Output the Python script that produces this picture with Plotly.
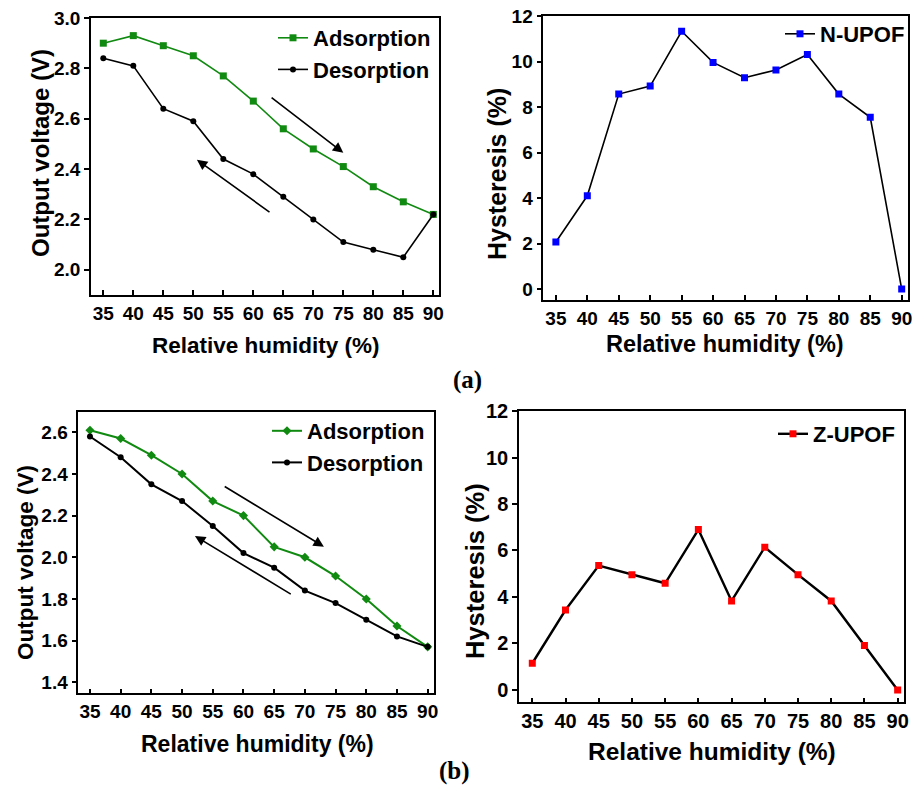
import plotly.graph_objects as go

W, H = 915, 787

# ---------------- data ----------------
rh = [35, 40, 45, 50, 55, 60, 65, 70, 75, 80, 85, 90]

n_ads = [2.90, 2.93, 2.89, 2.85, 2.77, 2.67, 2.56, 2.48, 2.41, 2.33, 2.27, 2.22]
n_des = [2.84, 2.81, 2.64, 2.59, 2.44, 2.38, 2.29, 2.20, 2.11, 2.08, 2.05, 2.22]
n_hyst = [2.07, 4.10, 8.57, 8.92, 11.33, 9.96, 9.29, 9.63, 10.31, 8.57, 7.55, 0.0]

z_ads = [2.61, 2.57, 2.49, 2.40, 2.27, 2.20, 2.05, 2.00, 1.91, 1.80, 1.67, 1.57]
z_des = [2.58, 2.48, 2.35, 2.27, 2.15, 2.02, 1.95, 1.84, 1.78, 1.70, 1.62, 1.57]
z_hyst = [1.15, 3.44, 5.35, 4.96, 4.59, 6.90, 3.83, 6.14, 4.96, 3.83, 1.91, 0.0]

x_ticks = [35, 40, 45, 50, 55, 60, 65, 70, 75, 80, 85, 90]

# direction arrows (tail -> head) in data units
arrows_a = [((62.8, 2.688), (75.0, 2.465)), ((62.95, 2.225), (50.6, 2.437))]
arrows_b = [((56.7, 2.344), (73.1, 2.051)), ((67.95, 1.819), (52.1, 2.102))]

FONT = "Liberation Sans, Arial, sans-serif"
GREEN = "#118a11"


def px(x):
    return x / W


def py(y):
    return 1 - y / H


fig = go.Figure()

# panel (a) left
fig.add_trace(go.Scatter(x=rh, y=n_ads, name="Adsorption", mode="lines+markers",
                         line=dict(color=GREEN, width=1.6),
                         marker=dict(symbol="square", size=7, color=GREEN),
                         xaxis="x", yaxis="y", legend="legend"))
fig.add_trace(go.Scatter(x=rh, y=n_des, name="Desorption", mode="lines+markers",
                         line=dict(color="black", width=1.6),
                         marker=dict(symbol="circle", size=6, color="black"),
                         xaxis="x", yaxis="y", legend="legend"))
# panel (a) right
fig.add_trace(go.Scatter(x=rh, y=n_hyst, name="N-UPOF", mode="lines+markers",
                         line=dict(color="black", width=1.6),
                         marker=dict(symbol="square", size=7, color="#0000ff"),
                         xaxis="x2", yaxis="y2", legend="legend2"))
# panel (b) left
fig.add_trace(go.Scatter(x=rh, y=z_ads, name="Adsorption", mode="lines+markers",
                         line=dict(color=GREEN, width=2),
                         marker=dict(symbol="diamond", size=7, color=GREEN),
                         xaxis="x3", yaxis="y3", legend="legend3"))
fig.add_trace(go.Scatter(x=rh, y=z_des, name="Desorption", mode="lines+markers",
                         line=dict(color="black", width=2),
                         marker=dict(symbol="circle", size=6, color="black"),
                         xaxis="x3", yaxis="y3", legend="legend3"))
# panel (b) right
fig.add_trace(go.Scatter(x=rh, y=z_hyst, name="Z-UPOF", mode="lines+markers",
                         line=dict(color="black", width=2.4),
                         marker=dict(symbol="square", size=7, color="#ff0000"),
                         xaxis="x4", yaxis="y4", legend="legend4"))


def tf(size):
    return dict(family=FONT, size=size, color="black", weight="bold")


def xaxis(dom, rng, anchor, fs=19):
    return dict(domain=dom, range=rng, anchor=anchor, tickvals=x_ticks,
                ticks="inside", ticklen=5, tickwidth=1.5, tickcolor="black",
                showline=True, linecolor="black", linewidth=1.5, mirror=True,
                showgrid=False, zeroline=False, tickfont=tf(fs),
                automargin=False, ticklabeloverflow="allow")


def yaxis(dom, rng, anchor, tick0, dtick, fmt, fs=19):
    return dict(domain=dom, range=rng, anchor=anchor, tick0=tick0, dtick=dtick,
                tickformat=fmt, ticks="outside", ticklen=5, tickwidth=1.5,
                tickcolor="black", showline=True, linecolor="black", linewidth=1.5,
                mirror=True, showgrid=False, zeroline=False, tickfont=tf(fs),
                automargin=False, ticklabeloverflow="allow")


def legend(xr, ytop, fs=22):
    return dict(x=px(xr), y=py(ytop), xanchor="right", yanchor="top",
                bgcolor="rgba(0,0,0,0)", font=tf(fs), tracegroupgap=0,
                itemwidth=30)


fig.update_layout(
    template="none",
    width=W, height=H, margin=dict(l=0, r=0, t=0, b=0, autoexpand=False),
    paper_bgcolor="white", plot_bgcolor="white",
    xaxis=xaxis([px(91), px(439)], [32.95, 90.95], "y"),
    yaxis=yaxis([py(295), py(18)], [1.9, 3.0], "x", 2.0, 0.2, ".1f"),
    xaxis2=xaxis([px(543.3), px(908.3)], [33.0, 91.05], "y2"),
    yaxis2=yaxis([py(300), py(16)], [-0.48, 12], "x2", 0, 2, "d"),
    xaxis3=xaxis([px(78.3), px(434.3)], [33.1, 91.08], "y3"),
    yaxis3=yaxis([py(693.3), py(412.3)], [1.347, 2.696], "x3", 1.4, 0.2, ".1f"),
    xaxis4=xaxis([px(519), px(904.3)], [33.0, 91.0], "y4", 20),
    yaxis4=yaxis([py(702.3), py(411)], [-0.53, 12], "x4", 0, 2, "d", 20),
    legend=legend(436, 17),
    legend2=legend(910, 13),
    legend3=legend(430, 410),
    legend4=legend(900, 413),
    showlegend=True,
)

ann = []


def title(text, x, y, size, angle=0):
    ann.append(dict(text=text, x=px(x), y=py(y), xref="paper", yref="paper",
                    xanchor="center", yanchor="middle", showarrow=False,
                    textangle=angle, font=tf(size)))


title("Output voltage (V)", 40, 153, 24, -90)
title("Relative humidity (%)", 266, 345, 22.5)
title("Hysteresis (%)", 497, 174, 25, -90)
title("Relative humidity (%)", 725, 344, 23.5)
title("Output voltage (V)", 25, 563, 22.5, -90)
title("Relative humidity (%)", 257, 744, 23)
title("Hysteresis (%)", 475, 571, 25.5, -90)
title("Relative humidity (%)", 712, 751, 24.5)

labfont = dict(family="Liberation Serif, Times New Roman, serif", size=25,
               color="black", weight="bold")
ann.append(dict(text="(a)", x=px(468), y=py(380), xref="paper", yref="paper",
                xanchor="center", yanchor="middle", showarrow=False, font=labfont))
ann.append(dict(text="(b)", x=px(454), y=py(787), xref="paper", yref="paper",
                xanchor="center", yanchor="bottom", showarrow=False, font=labfont))

for arrows, xr, yr in ((arrows_a, "x", "y"), (arrows_b, "x3", "y3")):
    for (tx, ty), (hx, hy) in arrows:
        ann.append(dict(x=hx, y=hy, ax=tx, ay=ty, xref=xr, yref=yr,
                        axref=xr, ayref=yr, showarrow=True, arrowhead=2,
                        arrowsize=1.3, arrowwidth=1.6, arrowcolor="black", text=""))

fig.update_layout(annotations=ann)

fig.write_html("out.html",
               config={"displayModeBar": False},
               post_script="document.body.style.margin='0px';"
                           "document.body.style.overflow='hidden';")
